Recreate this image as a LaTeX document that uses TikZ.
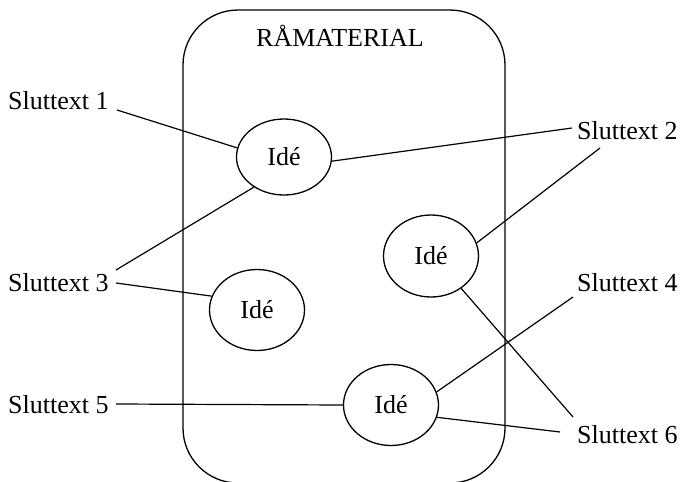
\documentclass[tikz,border=0pt]{standalone}
\usepackage{fontspec}
\setmainfont{Liberation Serif}
\usetikzlibrary{shapes.geometric}
\begin{document}
\begin{tikzpicture}[x=1pt,y=-1pt,
  idea/.style={ellipse,draw,line width=1.3pt,minimum width=95pt,minimum height=79pt,inner sep=0pt,font=\fontsize{26}{30}\selectfont},
  lbl/.style={anchor=base west,inner sep=0pt,font=\fontsize{26}{30}\selectfont},
  conn/.style={line width=1.2pt}]
\useasboundingbox (0,0) rectangle (681,482);
\draw[line width=1.3pt,rounded corners=55pt] (183,10) rectangle (505,483);
\node[lbl] (title) at (256,46) {RÅMATERIAL};
\node[idea,minimum height=76pt] (e1) at (284,157) {Idé};
\node[idea,minimum height=82pt] (e2) at (431,256) {Idé};
\node[idea,minimum height=81pt] (e3) at (257,310) {Idé};
\node[idea,minimum height=81pt] (e4) at (391,405) {Idé};
\node[lbl] (s1) at (8,109) {Sluttext 1};
\node[lbl] (s2) at (577,139) {Sluttext 2};
\node[lbl] (s3) at (8,291) {Sluttext 3};
\node[lbl] (s4) at (577,291) {Sluttext 4};
\node[lbl] (s5) at (8,413) {Sluttext 5};
\node[lbl] (s6) at (577,443) {Sluttext 6};
\coordinate (c1) at (117,110);
\coordinate (c2a) at (572,128);
\coordinate (c2b) at (600,148);
\coordinate (c3a) at (116,270);
\coordinate (c3b) at (116,283);
\coordinate (c4) at (573,297);
\coordinate (c5) at (116,404);
\coordinate (c6a) at (573,417);
\coordinate (c6b) at (560,432);
\draw[conn] (c1) -- (e1.169);
\draw[conn] (e1.355) -- (c2a);
\draw[conn] (c3a) -- (e1.225);
\draw[conn] (c2b) -- (e2.16);
\draw[conn] (e2.313) -- (c6a);
\draw[conn] (c3b) -- (e3.163);
\draw[conn] (e4.16) -- (c4);
\draw[conn] (c5) -- (e4.180);
\draw[conn] (e4.345) -- (c6b);
\end{tikzpicture}
\end{document}
